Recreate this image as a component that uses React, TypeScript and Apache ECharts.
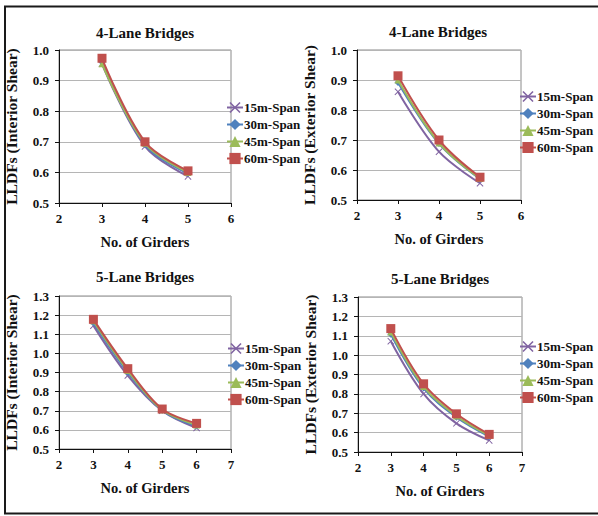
import React, { useEffect, useRef } from "react";
import * as echarts from "echarts";

const seriesNames = ["15m-Span", "30m-Span", "45m-Span", "60m-Span"];
const colors = ["#8064A2", "#4F81BD", "#9BBB59", "#C0504D"];

const girders4 = [3, 4, 5];
const girders5 = [3, 4, 5, 6];

// 4-lane, interior shear
const int4_15 = [0.955, 0.685, 0.587];
const int4_30 = [0.96, 0.69, 0.596];
const int4_45 = [0.955, 0.695, 0.6];
const int4_60 = [0.973, 0.7, 0.605];

// 4-lane, exterior shear
const ext4_15 = [0.861, 0.661, 0.556];
const ext4_30 = [0.892, 0.688, 0.57];
const ext4_45 = [0.9, 0.69, 0.572];
const ext4_60 = [0.914, 0.7, 0.576];

// 5-lane, interior shear
const int5_15 = [1.145, 0.884, 0.7, 0.61];
const int5_30 = [1.16, 0.9, 0.702, 0.62];
const int5_45 = [1.17, 0.91, 0.705, 0.625];
const int5_60 = [1.178, 0.92, 0.709, 0.634];

// 5-lane, exterior shear
const ext5_15 = [1.072, 0.8, 0.648, 0.56];
const ext5_30 = [1.108, 0.83, 0.68, 0.58];
const ext5_45 = [1.12, 0.838, 0.686, 0.585];
const ext5_60 = [1.137, 0.852, 0.697, 0.591];

const xTicks4 = { min: 2, max: 6 };
const xTicks5 = { min: 2, max: 7 };
const yRange4 = { min: 0.5, max: 1.0 };
const yRange5 = { min: 0.5, max: 1.3 };

const titles = ["4-Lane Bridges", "4-Lane Bridges", "5-Lane Bridges", "5-Lane Bridges"];
const yNames = [
  "LLDFs (Interior Shear)",
  "LLDFs (Exterior Shear)",
  "LLDFs (Interior Shear)",
  "LLDFs (Exterior Shear)",
];
const xName = "No. of Girders";

const FONT = "'Liberation Serif', 'Times New Roman', serif";

const crossPath =
  "path://M0,1L1,0L5,4L9,0L10,1L6,5L10,9L9,10L5,6L1,10L0,9L4,5Z";
const symbols = [crossPath, "diamond", "triangle", "rect"];
const symbolSizes = [7, 7, 7, 9];

export default function App() {
  const ref = useRef<HTMLDivElement>(null);

  useEffect(() => {
    if (!ref.current) return;
    const chart = echarts.init(ref.current, null, { renderer: "svg" });

    const panels = [
      { x: girders4, ys: [int4_15, int4_30, int4_45, int4_60], xr: xTicks4, yr: yRange4,
        grid: { left: 59, top: 50, width: 172, height: 153 }, titleX: 140, titleY: 20.5,
        legend: { left: 226, top: 101 } },
      { x: girders4, ys: [ext4_15, ext4_30, ext4_45, ext4_60], xr: xTicks4, yr: yRange4,
        grid: { left: 357, top: 50, width: 164, height: 150 }, titleX: 433, titleY: 19.5,
        legend: { left: 519, top: 90 } },
      { x: girders5, ys: [int5_15, int5_30, int5_45, int5_60], xr: xTicks5, yr: yRange5,
        grid: { left: 59, top: 296, width: 172, height: 153 }, titleX: 140, titleY: 264.5,
        legend: { left: 227, top: 342 } },
      { x: girders5, ys: [ext5_15, ext5_30, ext5_45, ext5_60], xr: xTicks5, yr: yRange5,
        grid: { left: 358, top: 297, width: 164, height: 155 }, titleX: 435, titleY: 266.5,
        legend: { left: 519, top: 340 } },
    ];

    const grid: any[] = [];
    const xAxis: any[] = [];
    const yAxis: any[] = [];
    const series: any[] = [];
    const legend: any[] = [];
    const title: any[] = [];

    panels.forEach((p, i) => {
      grid.push({
        ...p.grid,
        show: true,
        borderColor: "#8a8a8a",
        borderWidth: 1,
        backgroundColor: "transparent",
      });
      xAxis.push({
        type: "value",
        gridIndex: i,
        min: p.xr.min,
        max: p.xr.max,
        interval: 1,
        name: xName,
        nameLocation: "middle",
        nameGap: 31,
        nameTextStyle: { fontFamily: FONT, fontWeight: "bold", fontSize: 14.5, color: "#111" },
        axisLine: { show: true, onZero: false, lineStyle: { color: "#111", width: 1 } },
        axisTick: { show: true, inside: false, length: 4, lineStyle: { color: "#111" } },
        axisLabel: { fontFamily: FONT, fontWeight: "bold", fontSize: 13, color: "#111", margin: 9 },
        splitLine: { show: false },
      });
      yAxis.push({
        type: "value",
        gridIndex: i,
        min: p.yr.min,
        max: p.yr.max,
        interval: 0.1,
        name: yNames[i],
        nameLocation: "middle",
        nameGap: 40,
        nameRotate: 90,
        nameTextStyle: { fontFamily: FONT, fontWeight: "bold", fontSize: 15.5, color: "#111" },
        axisLine: { show: true, onZero: false, lineStyle: { color: "#111", width: 1 } },
        axisTick: { show: true, inside: false, length: 4, lineStyle: { color: "#111" } },
        axisLabel: {
          fontFamily: FONT,
          fontWeight: "bold",
          fontSize: 13,
          color: "#111",
          margin: 10,
          formatter: (v: number) => v.toFixed(1),
        },
        splitLine: { show: true, lineStyle: { color: "#b5b5b5", width: 1 } },
      });
      title.push({
        text: titles[i],
        left: p.titleX,
        top: p.titleY,
        textAlign: "center",
        textStyle: { fontFamily: FONT, fontWeight: "bold", fontSize: 15, color: "#111" },
      });
      legend.push({
        orient: "vertical",
        left: p.legend.left,
        top: p.legend.top,
        itemWidth: 16,
        itemHeight: 14,
        itemGap: 4,
        padding: 0,
        data: seriesNames.map((n) => n + "\u200b".repeat(i)),
        textStyle: { fontFamily: FONT, fontWeight: "bold", fontSize: 13, color: "#111", padding: [0, 0, 0, -4] },
      });
      p.ys.forEach((ys, k) => {
        series.push({
          type: "line",
          name: seriesNames[k] + "\u200b".repeat(i),
          xAxisIndex: i,
          yAxisIndex: i,
          data: p.x.map((xv, j) => [xv, ys[j]]),
          smooth: 0.35,
          symbol: symbols[k],
          symbolSize: symbolSizes[k],
          showSymbol: true,
          lineStyle: { color: colors[k], width: 2 },
          itemStyle: { color: colors[k] },
          z: 2 + k,
        });
      });
    });

    chart.setOption({
      animation: false,
      backgroundColor: "#ffffff",
      title,
      grid,
      xAxis,
      yAxis,
      legend,
      series,
      graphic: [
        {
          type: "rect",
          shape: { x: 5, y: 6.5, width: 620, height: 507 },
          style: { fill: "none", stroke: "#1a1a1a", lineWidth: 2 },
          silent: true,
        },
      ],
    });

    return () => chart.dispose();
  }, []);

  return (
    <div
      ref={ref}
      style={{ position: "absolute", left: 0, top: 0, width: 598, height: 516 }}
    />
  );
}
